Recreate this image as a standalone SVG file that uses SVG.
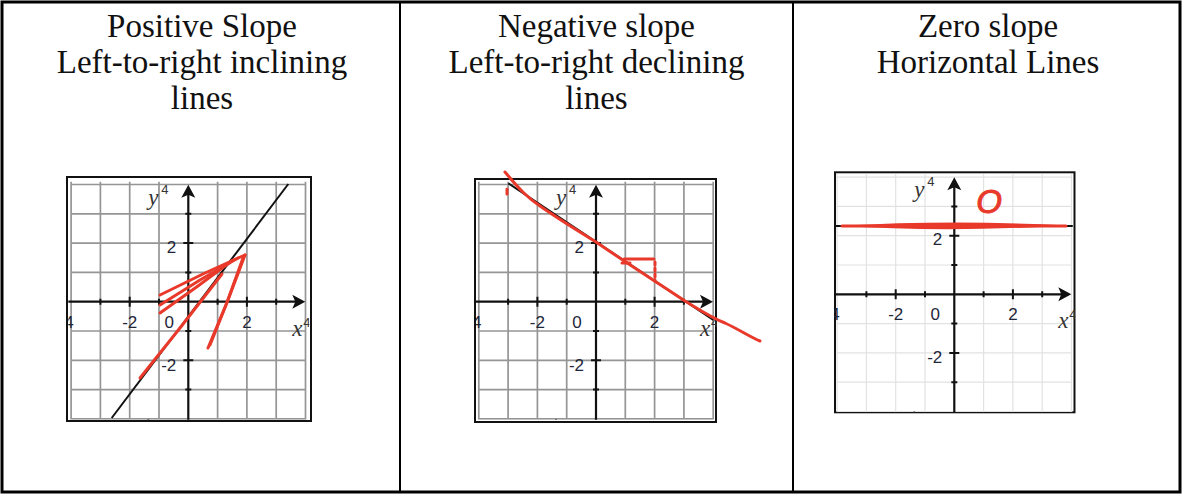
<svg xmlns="http://www.w3.org/2000/svg" xmlns:xlink="http://www.w3.org/1999/xlink" width="1182" height="494" viewBox="0 0 1182 494">
<style>
.hdr{font-family:"Liberation Serif","Times New Roman",serif;font-size:33px;fill:#111;text-anchor:middle}
.frame{fill:none;stroke:#000}
.gdark{fill:none;stroke:#959595;stroke-width:1.7}
.glight{fill:none;stroke:#e2e2e2;stroke-width:1.2}
.axis{fill:none;stroke:#111;stroke-width:2.2}
.tick{fill:none;stroke:#111;stroke-width:2}
.lbl{font-family:"Liberation Sans",Arial,sans-serif;font-size:17px;fill:#1e2638;text-anchor:middle}
.var{font-family:"Liberation Serif","Times New Roman",serif;font-style:italic;font-size:23px;fill:#333}
.sup{font-family:"Liberation Sans",Arial,sans-serif;font-size:13px;fill:#333}
.box{fill:#fff;stroke:#111;stroke-width:2}
.red{fill:none;stroke:#e8392a;stroke-width:3;stroke-linecap:round;stroke-linejoin:round}
.blk{fill:none;stroke:#111;stroke-width:2}
</style>
<defs>
<path id="grid" d="M-117.2,-120V118M-87.9,-120V118M-58.6,-120V118M-29.3,-120V118M29.3,-120V118M58.6,-120V118M87.9,-120V118M117.2,-120V118M-117,-117.2H118M-117,-87.9H118M-117,-58.6H118M-117,-29.3H118M-117,29.3H118M-117,58.6H118M-117,87.9H118M-117,117.2H118"/>
<g id="axes">
<path class="axis" d="M-122,0H114M0,121V-112"/>
<path fill="#111" d="M117,0L104,-7L107,0L104,7Z"/>
<path fill="#111" d="M0,-117L-7,-104L0,-107L7,-104Z"/>
<path class="tick" d="M-87.9,-3V3M-58.6,-5V5M-29.3,-3V3M29.3,-3V3M58.6,-5V5M87.9,-3V3M-3,-87.9H3M-5,-58.6H5M-3,-29.3H3M-3,29.3H3M-5,58.6H5M-3,87.9H3"/>
<text class="lbl" x="-58.6" y="26">-2</text>
<text class="lbl" x="-19" y="26">0</text>
<text class="lbl" x="58.6" y="26">2</text>
<text class="lbl" x="-124" y="26" style="text-anchor:start">4</text>
<text class="lbl" x="-12" y="-49" style="text-anchor:end">2</text>
<text class="lbl" x="-12" y="69" style="text-anchor:end">-2</text>
<text class="var" x="-40" y="-97">y</text>
<text class="sup" x="-27" y="-108">4</text>
<text class="var" x="104" y="34">x</text>
<text class="sup" x="115" y="25">4</text>
<circle cx="-40" cy="118" r="1" fill="#555"/>
</g>
<clipPath id="c1"><rect x="-120" y="-124" width="241" height="242"/></clipPath>
</defs>

<g id="table">
<rect class="frame" x="2" y="2" width="1178" height="490" stroke-width="3"/>
<path class="frame" d="M400,2V492M793,2V492" stroke-width="2"/>
</g>

<g id="header-positive">
<text class="hdr" x="202" y="37">Positive Slope</text>
<text class="hdr" x="202" y="73">Left-to-right inclining</text>
<text class="hdr" x="202" y="109">lines</text>
</g>
<g id="header-negative">
<text class="hdr" x="596.5" y="37">Negative slope</text>
<text class="hdr" x="596.5" y="73">Left-to-right declining</text>
<text class="hdr" x="596.5" y="109">lines</text>
</g>
<g id="header-zero">
<text class="hdr" x="988" y="37">Zero slope</text>
<text class="hdr" x="988" y="73">Horizontal Lines</text>
</g>

<g id="graph-positive" transform="translate(188.3,301.7)">
<rect class="box" x="-121.3" y="-124.7" width="244" height="244"/>
<g clip-path="url(#c1)">
<use xlink:href="#grid" class="gdark"/>
<use xlink:href="#axes"/>
</g>
<path class="blk" d="M-76.6,116.3L100,-117.7"/>
</g>
<g id="marks-positive">
<path class="red" d="M140,378L180,328L222,274"/>
<path class="red" d="M160,295L205,273L245,255"/>
<path class="red" d="M160,305L200,280L238,258"/>
<path class="red" d="M160,313L198,286L233,260"/>
<path class="red" d="M245,255L228,300L208,348"/>
<path class="red" d="M243,258L226,305L210,345"/>
</g>

<g id="graph-negative" transform="translate(596,301.7)">
<rect class="box" x="-121" y="-122.7" width="241" height="243"/>
<g clip-path="url(#c1)">
<use xlink:href="#grid" class="gdark"/>
<use xlink:href="#axes"/>
</g>
<path class="blk" d="M-87.7,-118.4L117.3,18.3"/>
</g>
<g id="marks-negative">
<path class="red" d="M505,172C520,190 528,198 540,206C560,220 580,232 596,242C625,262 655,281 685,301C700,310 712,318 725,323C740,330 750,337 760,341"/>
<path class="red" d="M507,189V194"/>
<path class="red" stroke-width="5" d="M624,259H654"/>
<path class="red" d="M622,263H630"/>
<path class="red" stroke-width="2" stroke-dasharray="3 3" d="M655,262V281"/>
</g>

<g id="graph-zero" transform="translate(954.3,294.3)">
<rect class="box" x="-119.3" y="-122" width="239.5" height="240"/>
<g clip-path="url(#c1)">
<use xlink:href="#grid" class="glight"/>
<use xlink:href="#axes"/>
</g>
<path class="blk" d="M-119.3,-68.3H118.5"/>
</g>
<g id="marks-zero">
<path fill="#e8392a" d="M840,226Q950,219.5 1068,225.5Q950,232.5 840,226Z"/>
<path class="red" stroke-width="5" d="M842,226H1066"/>
<text x="989" y="213" style="font-family:'Liberation Sans',Arial,sans-serif;font-style:italic;font-size:33px;fill:#e8392a;stroke:#e8392a;stroke-width:1;text-anchor:middle">O</text>
</g>
</svg>
